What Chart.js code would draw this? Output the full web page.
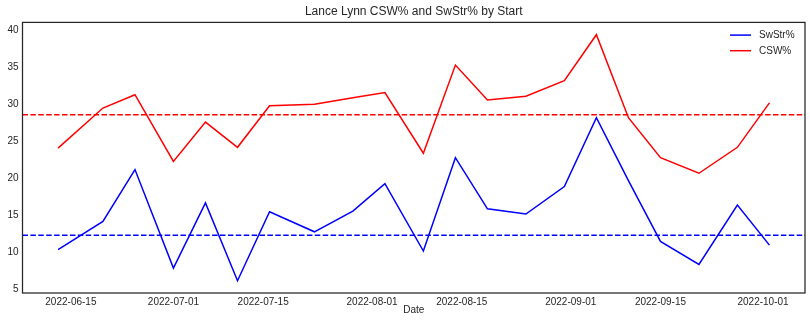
<!DOCTYPE html>
<html>
<head>
<meta charset="utf-8">
<script src="https://cdn.jsdelivr.net/npm/chart.js@4.4.0/dist/chart.umd.min.js"></script>
<style>
  body { margin: 0; background: #fff; }
  canvas { display: block; }
</style>
</head>
<body>
<canvas id="line-chart" width="810" height="328"></canvas>
<script>
const startDates = ["2022-06-13", "2022-06-20", "2022-06-25", "2022-07-01", "2022-07-06", "2022-07-11", "2022-07-16",
  "2022-07-23", "2022-07-29", "2022-08-03", "2022-08-09", "2022-08-14", "2022-08-19", "2022-08-25",
  "2022-08-31", "2022-09-05", "2022-09-10", "2022-09-15", "2022-09-21", "2022-09-27", "2022-10-02"];
const swStr = [10.4, 14.2, 21.2, 7.9, 16.7, 6.2, 15.5, 12.8, 15.6, 19.3, 10.2, 22.8, 15.9, 15.2, 18.9, 28.2, 19.7, 11.5, 8.4, 16.4, 11.0];
const csw = [24.1, 29.5, 31.3, 22.3, 27.6, 24.2, 29.8, 30.0, 30.9, 31.6, 23.4, 35.3, 30.6, 31.1, 33.2, 39.4, 28.2, 22.8, 20.7, 24.2, 30.2];
const swStrAvg = 12.35;
const cswAvg = 28.6;
const xTickLabels = ["2022-06-15", "2022-07-01", "2022-07-15", "2022-08-01", "2022-08-15", "2022-09-01", "2022-09-15", "2022-10-01"];
const yTickValues = [5, 10, 15, 20, 25, 30, 35, 40];
const chartTitle = "Lance Lynn CSW% and SwStr% by Start";

const DAY = 86400000;
function toDay(s) {
  return Date.parse(s + "T00:00:00Z") / DAY;
}
function dayLabel(d) {
  return new Date(d * DAY).toISOString().slice(0, 10);
}

const xs = startDates.map(toDay);
// matplotlib style 5% margins
const xPad = (xs[xs.length - 1] - xs[0]) * 0.05;
const xMin = xs[0] - xPad, xMax = xs[xs.length - 1] + xPad;
const allY = swStr.concat(csw);
const yLo = Math.min(...allY), yHi = Math.max(...allY);
const yPad = (yHi - yLo) * 0.05;

const ink = "#262626";
const font = "'Liberation Sans', Arial, sans-serif";

// frame + title centred over the axes, like matplotlib
const framePlugin = {
  id: "frame",
  afterDatasetsDraw(chart) {
    const a = chart.chartArea, ctx = chart.ctx;
    ctx.save();
    ctx.strokeStyle = ink;
    ctx.lineWidth = 1.25;
    ctx.strokeRect(a.left, a.top, a.right - a.left, a.bottom - a.top);
    ctx.fillStyle = ink;
    ctx.font = "12px " + font;
    ctx.textAlign = "center";
    ctx.textBaseline = "middle";
    ctx.fillText(chartTitle, (a.left + a.right) / 2, 11.5);
    ctx.restore();
  }
};

const legendPlugin = {
  id: "innerLegend",
  afterDraw(chart) {
    const ctx = chart.ctx, a = chart.chartArea;
    ctx.save();
    ctx.font = "10px " + font;
    ctx.textBaseline = "middle";
    chart.data.datasets.slice(0, 2).forEach(function(ds, i) {
      const y = a.top + 12.7 + i * 15.6;
      const x = a.right - 75;
      ctx.strokeStyle = ds.borderColor;
      ctx.lineWidth = 1.5;
      ctx.beginPath();
      ctx.moveTo(x, y);
      ctx.lineTo(x + 21, y);
      ctx.stroke();
      ctx.fillStyle = ink;
      ctx.fillText(ds.label, x + 29, y + 0.5);
    });
    ctx.restore();
  }
};

const chart = new Chart(document.getElementById("line-chart"), {
  type: "line",
  data: {
    datasets: [{
      label: "SwStr%",
      data: xs.map((x, i) => ({x: x, y: swStr[i]})),
      borderColor: "blue",
      borderWidth: 1.5
    }, {
      label: "CSW%",
      data: xs.map((x, i) => ({x: x, y: csw[i]})),
      borderColor: "red",
      borderWidth: 1.5
    }, {
      label: "SwStr% avg",
      data: [{x: xMin, y: swStrAvg}, {x: xMax, y: swStrAvg}],
      borderColor: "blue",
      borderWidth: 1.5,
      borderDash: [5.5, 2.4]
    }, {
      label: "CSW% avg",
      data: [{x: xMin, y: cswAvg}, {x: xMax, y: cswAvg}],
      borderColor: "red",
      borderWidth: 1.5,
      borderDash: [5.5, 2.4]
    }]
  },
  options: {
    responsive: false,
    devicePixelRatio: 1,
    animation: false,
    layout: {padding: {top: 22.4, right: 5, left: 0, bottom: 0}},
    elements: {
      point: {radius: 0},
      line: {tension: 0}
    },
    scales: {
      x: {
        type: "linear",
        min: xMin,
        max: xMax,
        grid: {display: false, drawTicks: false},
        border: {display: false},
        afterBuildTicks: s => { s.ticks = xTickLabels.map(t => ({value: toDay(t)})); },
        afterFit: s => { s.height = 35; },
        ticks: {
          color: ink,
          font: {family: font, size: 10},
          padding: 3,
          maxRotation: 0,
          autoSkip: false,
          callback: v => dayLabel(v)
        },
        title: {
          display: true,
          text: "Date",
          color: ink,
          font: {family: font, size: 10},
          padding: {top: 0, bottom: 12}
        }
      },
      y: {
        min: yLo - yPad,
        max: yHi + yPad,
        grid: {display: false, drawTicks: false},
        border: {display: false},
        afterBuildTicks: s => { s.ticks = yTickValues.map(v => ({value: v})); },
        afterFit: s => { s.width = 22.5; },
        ticks: {
          color: ink,
          font: {family: font, size: 10},
          padding: 4
        }
      }
    },
    plugins: {
      legend: {display: false},
      tooltip: {enabled: false},
      title: {display: false}
    }
  },
  plugins: [framePlugin, legendPlugin]
});
</script>
</body>
</html>
